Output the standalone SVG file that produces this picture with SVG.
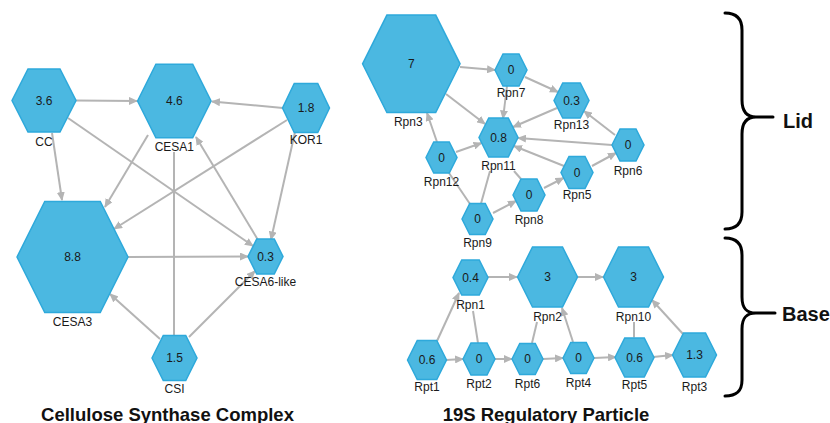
<svg xmlns="http://www.w3.org/2000/svg" width="830" height="423" viewBox="0 0 830 423">
<style>
.n polygon{fill:#4bb8e1;stroke:#2ea9db;stroke-width:1.5}
.v{font-family:"Liberation Sans",Arial,sans-serif;font-size:12px;fill:#1a1a1a;text-anchor:middle}
.l{font-family:"Liberation Sans",Arial,sans-serif;font-size:12px;fill:#1a1a1a;text-anchor:middle}
.e line{stroke:#b4b4b4;stroke-width:2}
.a{marker-end:url(#ah)}
.t{font-family:"Liberation Sans",Arial,sans-serif;font-size:18.5px;font-weight:bold;fill:#111;text-anchor:middle}
.b{font-family:"Liberation Sans",Arial,sans-serif;font-size:20px;font-weight:bold;fill:#111}
.br{fill:none;stroke:#000;stroke-width:3;stroke-linecap:round;stroke-linejoin:round}
</style>
<defs>
<marker id="ah" markerWidth="9" markerHeight="8" refX="8" refY="4" orient="auto" markerUnits="userSpaceOnUse"><path d="M0,0 L9,4 L0,8 z" fill="#b4b4b4"/></marker>
</defs>
<rect width="830" height="423" fill="#fff"/>
<g id="connectors" class="e">
<line class="a" x1="76" y1="100.5" x2="137" y2="101"/>
<line class="a" x1="283" y1="108" x2="212" y2="101.5"/>
<line class="a" x1="52" y1="133" x2="62" y2="200"/>
<line class="a" x1="148" y1="135" x2="105" y2="207"/>
<line class="a" x1="287" y1="120" x2="114" y2="229"/>
<line class="a" x1="68" y1="118" x2="253" y2="246"/>
<line class="a" x1="295" y1="132" x2="271" y2="239.5"/>
<line class="a" x1="258" y1="240" x2="196" y2="137"/>
<line x1="174" y1="152" x2="174" y2="335.5"/>
<line class="a" x1="128" y1="257" x2="248" y2="256.5"/>
<line class="a" x1="160" y1="339" x2="110" y2="294"/>
<line class="a" x1="189" y1="337" x2="255" y2="271"/>
<line class="a" x1="460" y1="67" x2="495" y2="70"/>
<line class="a" x1="525" y1="77" x2="558" y2="92"/>
<line class="a" x1="507" y1="86" x2="503" y2="118.5"/>
<line class="a" x1="446" y1="94" x2="485" y2="124"/>
<line class="a" x1="557" y1="108" x2="513" y2="127"/>
<line class="a" x1="615" y1="135" x2="584" y2="111"/>
<line class="a" x1="612" y1="145" x2="518" y2="138"/>
<line class="a" x1="592" y1="166" x2="616" y2="153"/>
<line class="a" x1="564" y1="166" x2="514" y2="146"/>
<line class="a" x1="456" y1="152" x2="481.5" y2="143"/>
<line class="a" x1="437" y1="142" x2="427" y2="113"/>
<line x1="481" y1="203.5" x2="490" y2="171"/>
<line x1="449" y1="173" x2="470" y2="204"/>
<line class="a" x1="493" y1="213" x2="516" y2="201"/>
<line class="a" x1="544" y1="188" x2="563.5" y2="178"/>
<line x1="521" y1="179" x2="514" y2="171"/>
<line class="a" x1="488" y1="277" x2="517" y2="277"/>
<line class="a" x1="577" y1="277" x2="603" y2="277"/>
<line class="a" x1="437" y1="341" x2="459" y2="293"/>
<line x1="478" y1="343" x2="473" y2="311"/>
<line class="a" x1="446" y1="360" x2="463" y2="359"/>
<line class="a" x1="495" y1="359" x2="512" y2="359"/>
<line class="a" x1="543" y1="359" x2="563" y2="358"/>
<line class="a" x1="594" y1="358" x2="616" y2="357"/>
<line class="a" x1="653" y1="357" x2="673" y2="355"/>
<line x1="532" y1="343" x2="537" y2="322"/>
<line class="a" x1="573" y1="342" x2="562" y2="308"/>
<line x1="634" y1="337.5" x2="634" y2="322"/>
<line class="a" x1="683" y1="334" x2="652" y2="300"/>
</g>
<g id="n-CC" class="n" transform="translate(44,100.5)"><polygon points="-32,0 -16,-31.5 16,-31.5 32,0 16,31.5 -16,31.5"/><text class="v" y="4.3">3.6</text><text class="l" y="45.5">CC</text></g>
<g id="n-CESA1" class="n" transform="translate(174.3,101)"><polygon points="-36.75,0 -18.4,-36.75 18.4,-36.75 36.75,0 18.4,36.75 -18.4,36.75"/><text class="v" y="4.3">4.6</text><text class="l" y="50">CESA1</text></g>
<g id="n-KOR1" class="n" transform="translate(306,108)"><polygon points="-23.5,0 -11.75,-24.5 11.75,-24.5 23.5,0 11.75,24.5 -11.75,24.5"/><text class="v" y="4.3">1.8</text><text class="l" y="36">KOR1</text></g>
<g id="n-CESA3" class="n" transform="translate(72.5,257)"><polygon points="-55.5,0 -27.75,-55.5 27.75,-55.5 55.5,0 27.75,55.5 -27.75,55.5"/><text class="v" y="4.3">8.8</text><text class="l" y="69">CESA3</text></g>
<g id="n-CESA6-like" class="n" transform="translate(265.5,256.5)"><polygon points="-17.5,0 -8.75,-17.5 8.75,-17.5 17.5,0 8.75,17.5 -8.75,17.5"/><text class="v" y="4.3">0.3</text><text class="l" y="29.5">CESA6-like</text></g>
<g id="n-CSI" class="n" transform="translate(174.5,358)"><polygon points="-22.5,0 -11.25,-22.5 11.25,-22.5 22.5,0 11.25,22.5 -11.25,22.5"/><text class="v" y="4.3">1.5</text><text class="l" y="35">CSI</text></g>
<g id="n-Rpn3" class="n" transform="translate(411.3,63.8)"><polygon points="-48.75,0 -24.4,-48.75 24.4,-48.75 48.75,0 24.4,48.75 -24.4,48.75"/><text class="v" y="4.3">7</text><text class="l" x="-3" y="62">Rpn3</text></g>
<g id="n-Rpn7" class="n" transform="translate(511,70)"><polygon points="-16,0 -8,-16 8,-16 16,0 8,16 -8,16"/><text class="v" y="4.3">0</text><text class="l" y="27">Rpn7</text></g>
<g id="n-Rpn13" class="n" transform="translate(571.5,100.5)"><polygon points="-17.5,0 -8.75,-17.5 8.75,-17.5 17.5,0 8.75,17.5 -8.75,17.5"/><text class="v" y="4.3">0.3</text><text class="l" y="28.5">Rpn13</text></g>
<g id="n-Rpn11" class="n" transform="translate(498.5,137.5)"><polygon points="-19.5,0 -9.75,-19.5 9.75,-19.5 19.5,0 9.75,19.5 -9.75,19.5"/><text class="v" y="4.3">0.8</text><text class="l" y="32.5">Rpn11</text></g>
<g id="n-Rpn6" class="n" transform="translate(628,145)"><polygon points="-16,0 -8,-16 8,-16 16,0 8,16 -8,16"/><text class="v" y="4.3">0</text><text class="l" y="30">Rpn6</text></g>
<g id="n-Rpn12" class="n" transform="translate(441.5,157.5)"><polygon points="-15.5,0 -7.75,-15.5 7.75,-15.5 15.5,0 7.75,15.5 -7.75,15.5"/><text class="v" y="4.3">0</text><text class="l" y="28.5">Rpn12</text></g>
<g id="n-Rpn5" class="n" transform="translate(577,172.5)"><polygon points="-16,0 -8,-16 8,-16 16,0 8,16 -8,16"/><text class="v" y="4.3">0</text><text class="l" y="26.5">Rpn5</text></g>
<g id="n-Rpn8" class="n" transform="translate(529,195)"><polygon points="-16,0 -8,-16 8,-16 16,0 8,16 -8,16"/><text class="v" y="4.3">0</text><text class="l" y="29">Rpn8</text></g>
<g id="n-Rpn9" class="n" transform="translate(477.5,219)"><polygon points="-15.5,0 -7.75,-15.5 7.75,-15.5 15.5,0 7.75,15.5 -7.75,15.5"/><text class="v" y="4.3">0</text><text class="l" y="28">Rpn9</text></g>
<g id="n-Rpn1" class="n" transform="translate(470.5,277.5)"><polygon points="-17.5,0 -8.75,-17.5 8.75,-17.5 17.5,0 8.75,17.5 -8.75,17.5"/><text class="v" y="4.3">0.4</text><text class="l" y="31.5">Rpn1</text></g>
<g id="n-Rpn2" class="n" transform="translate(547.5,277)"><polygon points="-30,0 -15,-30 15,-30 30,0 15,30 -15,30"/><text class="v" y="4.3">3</text><text class="l" y="44">Rpn2</text></g>
<g id="n-Rpn10" class="n" transform="translate(633.5,277)"><polygon points="-30,0 -15,-30 15,-30 30,0 15,30 -15,30"/><text class="v" y="4.3">3</text><text class="l" y="44">Rpn10</text></g>
<g id="n-Rpt1" class="n" transform="translate(427,360)"><polygon points="-19.5,0 -9.75,-19.5 9.75,-19.5 19.5,0 9.75,19.5 -9.75,19.5"/><text class="v" y="4.3">0.6</text><text class="l" y="31">Rpt1</text></g>
<g id="n-Rpt2" class="n" transform="translate(479,359)"><polygon points="-16,0 -8,-16 8,-16 16,0 8,16 -8,16"/><text class="v" y="4.3">0</text><text class="l" y="29">Rpt2</text></g>
<g id="n-Rpt6" class="n" transform="translate(527.5,359)"><polygon points="-15.5,0 -7.75,-15.5 7.75,-15.5 15.5,0 7.75,15.5 -7.75,15.5"/><text class="v" y="4.3">0</text><text class="l" y="29">Rpt6</text></g>
<g id="n-Rpt4" class="n" transform="translate(578.5,358)"><polygon points="-15.5,0 -7.75,-15.5 7.75,-15.5 15.5,0 7.75,15.5 -7.75,15.5"/><text class="v" y="4.3">0</text><text class="l" y="29">Rpt4</text></g>
<g id="n-Rpt5" class="n" transform="translate(634.5,357.5)"><polygon points="-19.5,0 -9.75,-19.5 9.75,-19.5 19.5,0 9.75,19.5 -9.75,19.5"/><text class="v" y="4.3">0.6</text><text class="l" y="31.5">Rpt5</text></g>
<g id="n-Rpt3" class="n" transform="translate(694.5,355)"><polygon points="-22,0 -11,-22 11,-22 22,0 11,22 -11,22"/><text class="v" y="4.3">1.3</text><text class="l" y="36">Rpt3</text></g>
<g id="brace-lid">
<path class="br" d="M725,13 C736,13 742,18 742,30 L742,100 C742,111 746,117 756,117 L773,117 M756,117 C746,117 742,123 742,134 L742,212 C742,224 736,229 725,229"/>
<text class="b" x="783" y="128">Lid</text>
</g>
<g id="brace-base">
<path class="br" d="M725,238 C736,238 742,243 742,255 L742,297 C742,308 746,313 756,313 L775,313 M756,313 C746,313 742,318 742,329 L742,380 C742,392 736,396 725,396"/>
<text class="b" x="782" y="321">Base</text>
</g>
<text class="t" x="167.5" y="420.5">Cellulose Synthase Complex</text>
<text class="t" x="546" y="420.5">19S Regulatory Particle</text>
</svg>
